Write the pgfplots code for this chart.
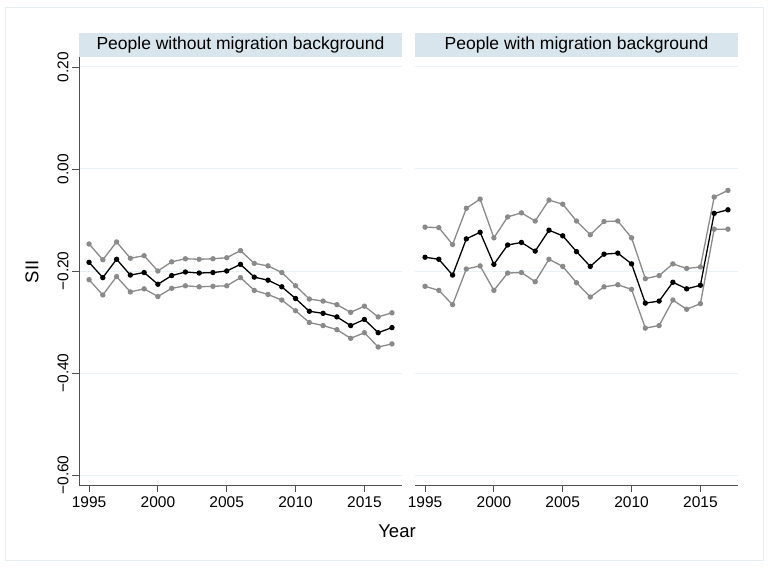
\documentclass[border=0pt]{standalone}
\usepackage{fontspec}
\setmainfont{Liberation Sans}
\usepackage{pgfplots}
\usepackage{pgfplotstable}
\pgfplotsset{compat=1.18}
\definecolor{gridc}{RGB}{232,241,243}
\definecolor{stripc}{RGB}{216,229,236}
\definecolor{framec}{RGB}{230,238,241}
\definecolor{ci}{RGB}{138,138,138}
\definecolor{axc}{RGB}{80,80,80}

\pgfplotstableread{
year lo mid hi
1995 -0.217 -0.183 -0.147
1996 -0.247 -0.213 -0.178
1997 -0.211 -0.177 -0.143
1998 -0.241 -0.208 -0.175
1999 -0.235 -0.203 -0.170
2000 -0.250 -0.226 -0.200
2001 -0.234 -0.209 -0.182
2002 -0.229 -0.202 -0.176
2003 -0.231 -0.204 -0.177
2004 -0.230 -0.203 -0.176
2005 -0.229 -0.200 -0.174
2006 -0.213 -0.187 -0.160
2007 -0.238 -0.212 -0.185
2008 -0.246 -0.218 -0.190
2009 -0.257 -0.231 -0.203
2010 -0.278 -0.254 -0.229
2011 -0.301 -0.279 -0.255
2012 -0.307 -0.283 -0.259
2013 -0.315 -0.290 -0.266
2014 -0.332 -0.307 -0.281
2015 -0.321 -0.295 -0.269
2016 -0.349 -0.321 -0.290
2017 -0.343 -0.311 -0.282
}\without

\pgfplotstableread{
year lo mid hi
1995 -0.230 -0.173 -0.114
1996 -0.238 -0.177 -0.115
1997 -0.266 -0.208 -0.148
1998 -0.196 -0.137 -0.077
1999 -0.190 -0.124 -0.059
2000 -0.238 -0.187 -0.135
2001 -0.204 -0.149 -0.094
2002 -0.203 -0.144 -0.086
2003 -0.221 -0.161 -0.102
2004 -0.177 -0.120 -0.061
2005 -0.191 -0.131 -0.069
2006 -0.223 -0.162 -0.102
2007 -0.251 -0.191 -0.129
2008 -0.231 -0.167 -0.103
2009 -0.227 -0.165 -0.102
2010 -0.236 -0.186 -0.135
2011 -0.312 -0.263 -0.215
2012 -0.307 -0.259 -0.209
2013 -0.257 -0.222 -0.186
2014 -0.275 -0.235 -0.195
2015 -0.264 -0.228 -0.192
2016 -0.118 -0.087 -0.055
2017 -0.118 -0.080 -0.042
}\with

\pgfplotsset{
  panel/.style={
    scale only axis, width=323pt, height=428pt, anchor=south west,
    xmin=1994.27, xmax=2017.73, ymin=-0.6196, ymax=0.2196,
    axis x line*=bottom, axis y line*=left,
    xtick={1995,2000,2005,2010,2015},
    xticklabels={1995,2000,2005,2010,2015},
    ytick={-0.6,-0.4,-0.2,0,0.2},
    ymajorgrids, grid style={gridc, line width=1pt},
    tick align=outside, major tick length=7pt,
    tick style={axc, line width=0.8pt},
    axis line style={axc, line width=1pt},
    tick label style={font=\fontsize{15.5}{18}\selectfont},
    xticklabel style={yshift=-1pt},
    clip=false,
  },
  cil/.style={ci, line width=1.3pt, mark=*, mark size=2pt, mark options={fill=ci, draw=ci}},
  midl/.style={black, line width=1.3pt, mark=*, mark size=2pt, mark options={fill=black, draw=black}},
}

\begin{document}
\begin{tikzpicture}[x=1pt,y=1pt]
\path[use as bounding box] (0,0) rectangle (771,566);
\draw[framec, line width=1pt, fill=white] (5,6) rectangle (763,558);

\begin{axis}[panel, at={(79pt,81pt)},
  yticklabels={−0.60,−0.40,−0.20,0.00,0.20},
  yticklabel style={rotate=90, anchor=south}]
  \addplot[cil] table[x=year,y=hi]{\without};
  \addplot[cil] table[x=year,y=lo]{\without};
  \addplot[midl] table[x=year,y=mid]{\without};
\end{axis}

\begin{axis}[panel, at={(415pt,81pt)},
  yticklabels={}, y axis line style={draw=none}, ytick style={draw=none}]
  \addplot[cil] table[x=year,y=hi]{\with};
  \addplot[cil] table[x=year,y=lo]{\with};
  \addplot[midl] table[x=year,y=mid]{\with};
\end{axis}

\fill[stripc] (79,509) rectangle (402,533);
\fill[stripc] (415,509) rectangle (738,533);
\node[font=\fontsize{17.5}{20}\selectfont] at (240.5,521) {People without migration background};
\node[font=\fontsize{17.5}{20}\selectfont] at (576.5,521) {People with migration background};

\node[font=\fontsize{18.5}{21}\selectfont, rotate=90] at (32,294) {SII};
\node[font=\fontsize{18.5}{21}\selectfont, anchor=base] at (397,29) {Year};
\end{tikzpicture}
\end{document}
